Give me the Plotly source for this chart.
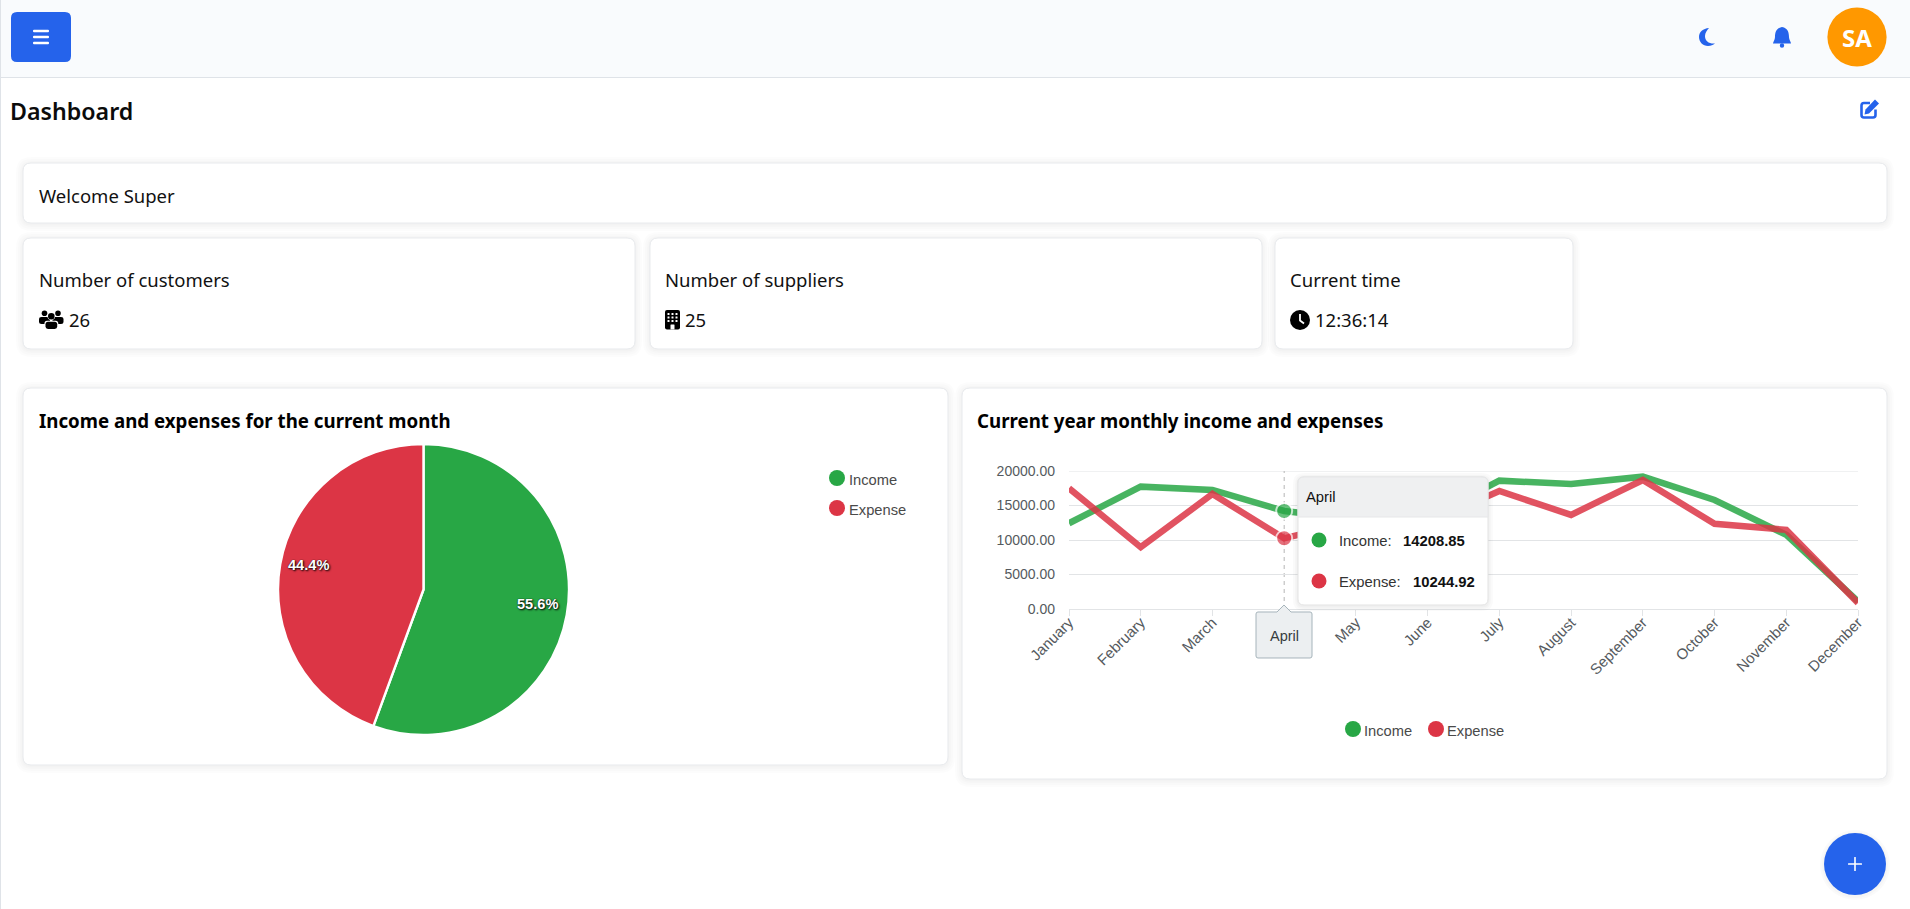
import plotly.graph_objects as go

# ---------- data ----------
months = ["January", "February", "March", "April", "May", "June", "July",
          "August", "September", "October", "November", "December"]
income = [12430, 17730, 17250, 14208.85, 13000, 13200, 18600, 18120, 19180, 15800, 10750, 1100]
expense = [17500, 8960, 16670, 10244.92, 12800, 12500, 17100, 13640, 18700, 12340, 11470, 870]
pie_labels = ["Income", "Expense"]
pie_values = [55.6, 44.4]
y_ticks = [0, 5000, 10000, 15000, 20000]
hover_month = "April"
customers = "26"
suppliers = "25"
clock_text = "12:36:14"

# ---------- page geometry helpers ----------
W, H = 1910, 909
GREEN, RED, BLUE = "#28a745", "#dc3545", "#2563eb"
UI_FONT = "Noto Sans"
CHART_FONT = "Liberation Sans"
BODY = 18.5
def px(x): return x / W
def py(y): return 1 - y / H

def path(cmds):
    out = []
    for c in cmds:
        if c == "Z":
            out.append("Z")
            continue
        vals = c[1:]
        pts = " ".join(f"{px(vals[i]):.6f},{py(vals[i+1]):.6f}" for i in range(0, len(vals), 2))
        out.append(c[0] + " " + pts)
    return " ".join(out)

def rr_cmds(x0, y0, x1, y1, r):
    return [("M", x0 + r, y0), ("L", x1 - r, y0), ("Q", x1, y0, x1, y0 + r), ("L", x1, y1 - r),
            ("Q", x1, y1, x1 - r, y1), ("L", x0 + r, y1), ("Q", x0, y1, x0, y1 - r),
            ("L", x0, y0 + r), ("Q", x0, y0, x0 + r, y0), "Z"]

shapes = []
def add_path(cmds, fill=None, line=None, lw=0, layer="below"):
    shapes.append(dict(type="path", xref="paper", yref="paper", path=path(cmds), layer=layer,
                       fillcolor=fill or "rgba(0,0,0,0)",
                       line=dict(color=line or "rgba(0,0,0,0)", width=lw)))
def rrect(x0, y0, x1, y1, r, fill=None, line=None, lw=0, layer="below"):
    add_path(rr_cmds(x0, y0, x1, y1, r), fill, line, lw, layer)
def circle(cx, cy, r, fill, layer="below", line=None, lw=0):
    shapes.append(dict(type="circle", xref="paper", yref="paper", layer=layer,
                       x0=px(cx - r), x1=px(cx + r), y0=py(cy + r), y1=py(cy - r), fillcolor=fill,
                       line=dict(color=line or "rgba(0,0,0,0)", width=lw)))
def card(x0, y0, x1, y1):
    for e in (7, 5, 3, 1.5):
        rrect(x0 - e, y0 - e + 1, x1 + e, y1 + e + 1, 8 + e, fill="rgba(0,0,0,0.011)")
    rrect(x0, y0, x1, y1, 8, fill="#ffffff", line="#e8eaed", lw=1)

annotations = []
def text(x, y, s, size=16, color="#111111", family=UI_FONT, weight=400, anchor="left", shadow=None):
    font = dict(size=size, color=color, family=family, weight=weight)
    if shadow:
        font["shadow"] = shadow
    annotations.append(dict(xref="paper", yref="paper", x=px(x), y=py(y), text=s, showarrow=False,
                            xanchor=anchor, yanchor="middle", font=font, borderpad=0, borderwidth=0))

# ---------- top bar ----------
shapes.append(dict(type="rect", xref="paper", yref="paper", layer="below", x0=0, x1=1, y0=py(77.5), y1=1,
                   fillcolor="#f9fbfd", line=dict(width=0)))
shapes.append(dict(type="line", xref="paper", yref="paper", layer="below", x0=0, x1=1, y0=py(77.5), y1=py(77.5),
                   line=dict(color="#dfe3e8", width=1)))
shapes.append(dict(type="line", xref="paper", yref="paper", layer="below", x0=px(0.5), x1=px(0.5), y0=0, y1=1,
                   line=dict(color="#dfe3e8", width=1)))
rrect(11, 12, 71, 62, 6, fill=BLUE)
for yy in (31, 37, 43):
    rrect(33, yy - 1.2, 49, yy + 1.2, 1, fill="#ffffff")
add_path([("M", 1709, 28), ("C", 1703, 28.5, 1699, 32, 1699, 37), ("C", 1699, 42, 1703, 46, 1708, 46),
          ("C", 1711, 46, 1713, 45, 1715, 43.5), ("C", 1709, 44, 1705, 41, 1705, 36),
          ("C", 1705, 33, 1707, 30, 1709, 28), "Z"], fill=BLUE)
add_path([("M", 1782, 27), ("C", 1776, 28, 1775, 33, 1775, 37), ("C", 1775, 40, 1773, 42, 1773, 43.5),
          ("L", 1791, 43.5), ("C", 1791, 42, 1789, 40, 1789, 37), ("C", 1789, 33, 1788, 28, 1782, 27), "Z"], fill=BLUE)
circle(1782, 45.5, 2.2, BLUE)
circle(1857, 37, 29.6, "#ff9800")
text(1857, 37, "SA", size=24, color="#ffffff", weight=700, anchor="center")

# ---------- page head ----------
text(10, 111, "Dashboard", size=23.2, color="#0b0b0b", weight=600)
add_path([("M", 1870, 103), ("L", 1864, 103), ("Q", 1861.5, 103, 1861.5, 105.5), ("L", 1861.5, 115),
          ("Q", 1861.5, 117.5, 1864, 117.5), ("L", 1873, 117.5), ("Q", 1875.5, 117.5, 1875.5, 115), ("L", 1875.5, 109.5)],
         line=BLUE, lw=2.6)
add_path([("M", 1875, 99.5), ("L", 1879, 103.5), ("L", 1869, 113.5), ("L", 1864.5, 114.5), ("L", 1865.5, 109.5), "Z"], fill=BLUE)

# ---------- cards ----------
card(23, 163, 1887, 223)
text(39, 195, "Welcome Super", size=BODY)
card(23, 238, 635, 349)
text(39, 279.5, "Number of customers", size=BODY)
text(69, 320, customers, size=BODY)
card(650, 238, 1262, 349)
text(665, 279.5, "Number of suppliers", size=BODY)
text(685, 320, suppliers, size=BODY)
card(1275, 238, 1573, 349)
text(1290, 279.5, "Current time", size=BODY)
text(1315, 320, clock_text, size=BODY)
card(23, 388, 948, 765)
text(39, 420, "Income and expenses for the current month", size=18.7, color="#000000", weight=700)
card(962, 388, 1887, 779)
text(977, 420, "Current year monthly income and expenses", size=18.7, color="#000000", weight=700)

# users icon
BK = "#000000"
for cx in (44.5, 58):
    circle(cx, 313.2, 2.8, BK)
    rrect(cx - 5.5, 317, cx + 5.5, 324, 2.5, fill=BK)
circle(51.3, 316.3, 3.8, "#ffffff")
circle(51.3, 316.3, 3.3, BK)
rrect(44.5, 320.8, 58.2, 329, 2.5, fill="#ffffff")
rrect(45.5, 321.8, 57.2, 329, 2.5, fill=BK)
# building icon
rrect(665, 310, 680, 329.5, 2, fill=BK)
for iy in (313, 316.5, 320):
    for ix in (667.5, 671.5, 675.5):
        rrect(ix, iy, ix + 2, iy + 2, 0.3, fill="#ffffff")
rrect(670.5, 324.5, 674.5, 329.5, 0.5, fill="#ffffff")
# clock icon
circle(1300, 320, 10, BK)
add_path([("M", 1300, 314), ("L", 1300, 320.5), ("L", 1304, 323.5)], line="#ffffff", lw=1.8)

# pie legend
LEG = 14.7
circle(837, 478, 8, GREEN)
text(849, 480, pie_labels[0], size=LEG, color="#4a4a4a", family=CHART_FONT)
circle(837, 508, 8, RED)
text(849, 510, pie_labels[1], size=LEG, color="#4a4a4a", family=CHART_FONT)
# pie slice labels
total = sum(pie_values)
shadow_css = "1px 1px 2px #000000, 0 0 1px #000000"
text(537, 604, f"{pie_values[0] / total * 100:.1f}%", size=14.6, color="#ffffff", family=CHART_FONT, weight=700,
     anchor="center", shadow=shadow_css)
text(308.5, 565, f"{pie_values[1] / total * 100:.1f}%", size=14.6, color="#ffffff", family=CHART_FONT, weight=700,
     anchor="center", shadow=shadow_css)

# line legend
circle(1353, 729, 8, GREEN)
text(1364, 731, "Income", size=LEG, color="#4a4a4a", family=CHART_FONT)
circle(1436, 729, 8, RED)
text(1447, 731, "Expense", size=LEG, color="#4a4a4a", family=CHART_FONT)

# top gridline (plotly drops the one that sits on the plot edge)
axis_grey = "#e2e4e6"
shapes.append(dict(type="line", xref="x", yref="y", layer="below", x0=months[0], x1=months[-1],
                   y0=y_ticks[-1], y1=y_ticks[-1], line=dict(color=axis_grey, width=1)))
# axis pointer
shapes.append(dict(type="line", xref="x", yref="y", layer="below", x0=hover_month, x1=hover_month,
                   y0=0, y1=y_ticks[-1], line=dict(color="#b6b6b6", width=1, dash="4px,4px")))

# tooltip
hi = months.index(hover_month)
for e in (5, 3, 1.5):
    rrect(1298 - e, 477 - e + 1, 1488 + e, 605 + e + 1, 6 + e, fill="rgba(0,0,0,0.018)", layer="above")
rrect(1298, 477, 1488, 605, 6, fill="#ffffff", line="#e3e3e3", lw=1, layer="above")
add_path([("M", 1304, 477), ("L", 1482, 477), ("Q", 1488, 477, 1488, 483), ("L", 1488, 517), ("L", 1298, 517),
          ("L", 1298, 483), ("Q", 1298, 477, 1304, 477), "Z"], fill="#eff0f1", line="#e6e7e8", lw=1, layer="above")
TIP = 14.8
text(1306, 497, hover_month, size=TIP, color="#111111", family=CHART_FONT)
circle(1319, 540, 7.5, GREEN, layer="above")
text(1339, 541, pie_labels[0] + ":", size=TIP, color="#333333", family=CHART_FONT)
text(1403, 541, f"{income[hi]:.2f}", size=TIP, color="#111111", family=CHART_FONT, weight=700)
circle(1319, 581, 7.5, RED, layer="above")
text(1339, 582, pie_labels[1] + ":", size=TIP, color="#333333", family=CHART_FONT)
text(1413, 582, f"{expense[hi]:.2f}", size=TIP, color="#111111", family=CHART_FONT, weight=700)

# x axis tooltip
add_path([("M", 1258, 612), ("L", 1277, 612), ("L", 1284, 605), ("L", 1291, 612), ("L", 1310, 612),
          ("Q", 1312, 612, 1312, 614), ("L", 1312, 656), ("Q", 1312, 658, 1310, 658), ("L", 1258, 658),
          ("Q", 1256, 658, 1256, 656), ("L", 1256, 614), ("Q", 1256, 612, 1258, 612), "Z"],
         fill="#eceff1", line="#a6b4bb", lw=1, layer="above")
text(1284, 636, hover_month, size=14.5, color="#373d3f", family=CHART_FONT, anchor="center")

# floating button
for e in (4, 2):
    circle(1855, 865, 31 + e, "rgba(0,0,0,0.02)")
circle(1855, 864, 31, BLUE)
rrect(1848, 863.2, 1862, 864.8, 0.5, fill="#ffffff")
rrect(1854.2, 857, 1855.8, 871, 0.5, fill="#ffffff")

# ---------- traces ----------
sizes = [16 if m == hover_month else 0 for m in months]
fig = go.Figure()
fig.add_trace(go.Pie(labels=pie_labels, values=pie_values, sort=False, direction="clockwise", rotation=0,
                     domain=dict(x=[px(278), px(569)], y=[py(735), py(444)]),
                     marker=dict(colors=[GREEN, RED], line=dict(color="#ffffff", width=2.4)),
                     textinfo="none", showlegend=False, hoverinfo="skip"))
for name, vals, rgba, col in (("Income", income, "rgba(40,167,69,0.85)", GREEN),
                              ("Expense", expense, "rgba(220,53,69,0.85)", RED)):
    fig.add_trace(go.Scatter(x=months, y=vals, name=name, mode="lines+markers",
                             line=dict(color=rgba, width=6.5),
                             marker=dict(size=sizes, color=col, line=dict(color="#ffffff", width=2)),
                             showlegend=False, hoverinfo="skip"))

fig.update_layout(
    width=W, height=H, margin=dict(l=0, r=0, t=0, b=0), autosize=False,
    paper_bgcolor="#ffffff", plot_bgcolor="rgba(0,0,0,0)", showlegend=False,
    xaxis=dict(domain=[px(1069), px(1858)], type="category", categoryorder="array", categoryarray=months,
               range=[0, len(months) - 1], dtick=1, tickangle=-45, showgrid=False, showline=True,
               linecolor=axis_grey, ticks="outside", ticklen=6, tickcolor=axis_grey, zeroline=False,
               ticklabelstandoff=-8,
               tickfont=dict(family=CHART_FONT, size=15, color="#555a5e"), automargin=False),
    yaxis=dict(domain=[py(609), py(471)], range=[0, y_ticks[-1]], tickvals=y_ticks, tickformat=".2f",
               showgrid=True, gridcolor=axis_grey, zeroline=False, showline=False, ticks="",
               ticklabelstandoff=13,
               tickfont=dict(family=CHART_FONT, size=14, color="#555a5e"), automargin=False),
    shapes=shapes, annotations=annotations,
)
fig.write_html("out.html", config=dict(displayModeBar=False),
               post_script="document.body.style.margin='0';document.body.style.overflow='hidden';")
